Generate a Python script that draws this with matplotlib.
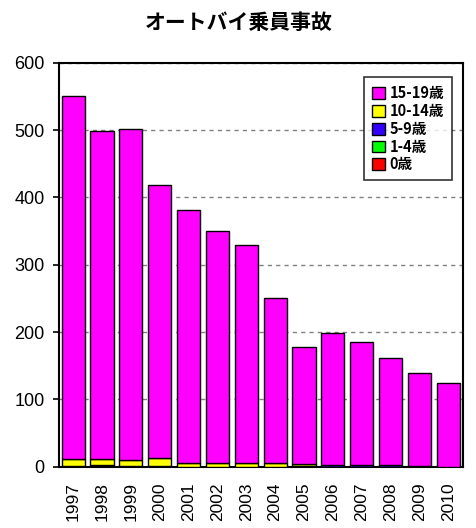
import numpy as np
import matplotlib
matplotlib.use("Agg")
import matplotlib.pyplot as plt

plt.rcParams['font.family'] = ['Liberation Sans', 'Noto Sans CJK JP']

# データ（グラフから読み取った概算値）
years = ['1997', '1998', '1999', '2000', '2001', '2002', '2003',
         '2004', '2005', '2006', '2007', '2008', '2009', '2010']
totals = [551, 498, 502, 419, 382, 350, 329, 251, 178, 198, 185, 162, 140, 124]
age_0 = [0, 0, 0, 0, 0, 0, 0, 0, 0, 0, 0, 0, 0, 0]
age_1_4 = [0, 1, 0, 0, 0, 0, 0, 0, 0, 0, 0, 0, 0, 0]
age_5_9 = [1, 2, 1, 1, 0, 0, 0, 0, 1, 2, 2, 2, 1, 0]
age_10_14 = [10, 8, 9, 12, 5, 5, 5, 5, 3, 0, 0, 1, 0, 0]
age_15_19 = [t - a - b - c - d for t, a, b, c, d in
             zip(totals, age_0, age_1_4, age_5_9, age_10_14)]

series = [
    ('0歳', age_0, '#FF0000'),
    ('1-4歳', age_1_4, '#00FF00'),
    ('5-9歳', age_5_9, '#3300FF'),
    ('10-14歳', age_10_14, '#FFFF00'),
    ('15-19歳', age_15_19, '#FF00FF'),
]

fig = plt.figure(figsize=(4.77, 5.28), dpi=100)
ax = fig.add_axes([0.123, 0.116, 0.847, 0.765])

x = np.arange(len(years))
bottom = np.zeros(len(years))
handles = []
for label, vals, color in series:
    h = ax.bar(x, vals, bottom=bottom, width=0.8, color=color,
               edgecolor='black', linewidth=1.0, label=label, zorder=3)
    handles.append(h)
    bottom += np.array(vals)

ax.set_xlim(-0.5, len(years) - 0.5)
ax.set_ylim(0, 600)
ax.set_yticks(range(0, 601, 100))
ax.set_xticks(x)
ax.set_xticklabels(years, rotation=90, fontsize=12.5)
ax.tick_params(axis='y', labelsize=13, length=4, width=1.2, pad=6)
ax.tick_params(axis='x', length=0, pad=11)
ax.yaxis.grid(True, linestyle=(0, (3, 3)), color='#808080', linewidth=1, zorder=0)
for sp in ax.spines.values():
    sp.set_linewidth(1.5)

leg = ax.legend(handles[::-1], [s[0] for s in series][::-1],
                loc='upper right', bbox_to_anchor=(0.985, 0.975),
                prop={'family': ['Noto Sans CJK JP'], 'weight': 'bold', 'size': 10.5},
                frameon=True, fancybox=False, edgecolor='black',
                handlelength=0.85, handleheight=0.85, handletextpad=0.35,
                labelspacing=0.12, borderpad=0.55, borderaxespad=0.3)
leg.get_frame().set_linewidth(1.2)

fig.text(0.5, 0.957, 'オートバイ乗員事故', ha='center', va='center',
         fontsize=15, fontweight='bold', family=['Noto Sans CJK JP'])

fig.savefig('out.png', dpi=100)
